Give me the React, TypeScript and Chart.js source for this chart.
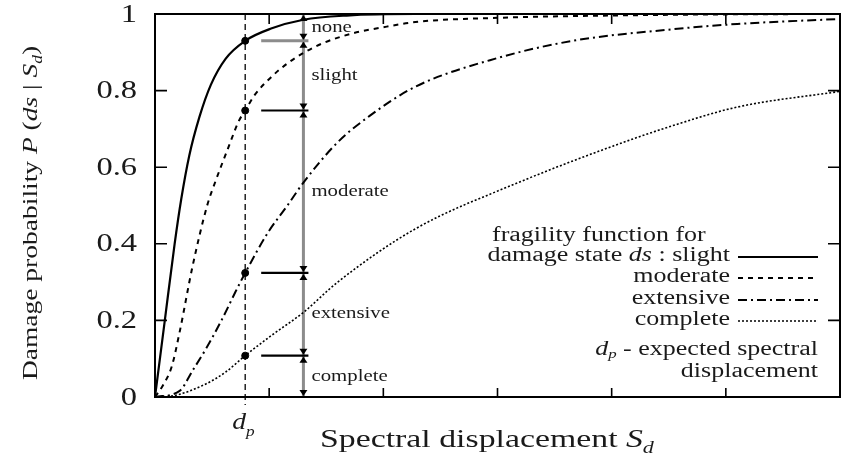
import { useEffect, useRef } from "react";
import { Chart, registerables } from "chart.js";

Chart.register(...registerables);

// ---- data (x in axis units, tick spacing = 1) ----
const xSlight = [0, 0.086, 0.172, 0.23, 0.3, 0.388, 0.489, 0.618, 0.79, 1.017, 1.3, 1.68, 2.28, 3, 4, 5, 6];
const pSlight = [0, 0.2, 0.4, 0.517, 0.63, 0.73, 0.815, 0.883, 0.93, 0.962, 0.985, 0.996, 1, 1, 1, 1, 1];

const xModerate = [0, 0.069, 0.147, 0.216, 0.328, 0.457, 0.532, 0.647, 0.733, 0.79, 0.877, 1.017, 1.164, 1.31, 1.48, 1.74, 2.03, 2.28, 3, 4, 5, 6];
const pModerate = [0, 0.03, 0.08, 0.17, 0.34, 0.5, 0.565, 0.655, 0.72, 0.748, 0.79, 0.835, 0.872, 0.9, 0.925, 0.95, 0.967, 0.979, 0.99, 0.996, 0.999, 1];

const xExtensive = [0, 0.216, 0.331, 0.445, 0.589, 0.704, 0.79, 0.991, 1.16, 1.3, 1.6, 1.88, 2.28, 3, 3.66, 4.53, 5.1, 6];
const pExtensive = [0, 0.016, 0.07, 0.125, 0.204, 0.274, 0.324, 0.43, 0.5, 0.56, 0.665, 0.734, 0.81, 0.885, 0.93, 0.96, 0.974, 0.987];

const xComplete = [0, 0.155, 0.445, 0.618, 0.79, 1.017, 1.3, 1.6, 2.28, 3.15, 4.01, 4.53, 5.1, 6];
const pComplete = [0, 0.003, 0.034, 0.065, 0.108, 0.16, 0.221, 0.3, 0.439, 0.556, 0.655, 0.708, 0.757, 0.798];

const DP = 0.79; // expected spectral displacement d_p
const dpProb = [0.93, 0.748, 0.324, 0.108]; // curve values at d_p
const STATE_X = 1.3; // position of the damage-state bar
const stateLabels = ["none", "slight", "moderate", "extensive", "complete"];
const legendLabels = ["slight", "moderate", "extensive", "complete"];
const X_MIN = 0;
const X_MAX = 6;
const Y_STEP = 0.2;

const SERIF = '"Liberation Serif", "Times New Roman", serif';
const SX = 1.3;
const INK = "#1a1a1a";

const dashes: number[][] = [[], [5, 5], [9, 4, 2, 4], [2, 2]];
const widths = [2.2, 2, 2, 1.6];

type Run = [string, string, number?];

function drawRich(ctx: CanvasRenderingContext2D, runs: Run[], x: number, y: number, align: string, sx = SX) {
  const ws = runs.map((r) => {
    ctx.font = r[1];
    return ctx.measureText(r[0]).width * sx;
  });
  const total = ws.reduce((a, b) => a + b, 0);
  let cx = align === "right" ? x - total : align === "center" ? x - total / 2 : x;
  runs.forEach((r, i) => {
    ctx.save();
    ctx.font = r[1];
    ctx.translate(cx, y + (r[2] || 0));
    ctx.scale(sx, 1);
    ctx.textAlign = "left";
    ctx.fillText(r[0], 0, 0);
    ctx.restore();
    cx += ws[i];
  });
}

const f = (size: number, italic = false) => `${italic ? "italic " : ""}${size}px ${SERIF}`;

const decor = {
  id: "decor",
  beforeDatasetsDraw(chart: any) {
    const { ctx, chartArea: a, scales } = chart;
    const x = scales.x;
    const y = scales.y;
    ctx.save();
    const xd = x.getPixelForValue(DP);
    const xs = x.getPixelForValue(STATE_X);
    // d_p dashed line
    ctx.strokeStyle = "#000";
    ctx.lineWidth = 1.3;
    ctx.setLineDash([6, 4]);
    ctx.beginPath();
    ctx.moveTo(xd, a.top);
    ctx.lineTo(xd, a.bottom + 8);
    ctx.stroke();
    ctx.setLineDash([]);
    // damage-state bar
    ctx.strokeStyle = "#8c8c8c";
    ctx.lineWidth = 3;
    ctx.beginPath();
    ctx.moveTo(xs, y.getPixelForValue(1));
    ctx.lineTo(xs, y.getPixelForValue(0));
    ctx.stroke();
    // horizontal markers
    dpProb.forEach((p, i) => {
      const py = y.getPixelForValue(p);
      ctx.strokeStyle = i === 0 ? "#8c8c8c" : "#000";
      ctx.lineWidth = i === 0 ? 3 : 2.2;
      ctx.beginPath();
      ctx.moveTo(xd + 16, py);
      ctx.lineTo(xs + 5, py);
      ctx.stroke();
    });
    ctx.restore();
  },
  afterDatasetsDraw(chart: any) {
    const { ctx, chartArea: a, scales } = chart;
    const x = scales.x;
    const y = scales.y;
    ctx.save();
    ctx.fillStyle = INK;
    ctx.strokeStyle = "#000";
    // frame
    ctx.lineWidth = 2;
    ctx.beginPath();
    ctx.moveTo(a.left, a.top);
    ctx.lineTo(a.left, a.bottom);
    ctx.lineTo(a.right, a.bottom);
    ctx.lineTo(a.right, a.top);
    ctx.closePath();
    ctx.stroke();
    // inner ticks
    ctx.lineWidth = 1.6;
    y.ticks.forEach((t: any) => {
      if (t.value <= 0 || t.value >= 1) return;
      const py = y.getPixelForValue(t.value);
      ctx.beginPath();
      ctx.moveTo(a.left, py);
      ctx.lineTo(a.left + 12, py);
      ctx.moveTo(a.right, py);
      ctx.lineTo(a.right - 12, py);
      ctx.stroke();
    });
    x.ticks.forEach((t: any) => {
      if (t.value <= X_MIN || t.value >= X_MAX) return;
      const px = x.getPixelForValue(t.value);
      ctx.beginPath();
      ctx.moveTo(px, a.bottom);
      ctx.lineTo(px, a.bottom - 9);
      ctx.moveTo(px, a.top);
      ctx.lineTo(px, a.top + 10);
      ctx.stroke();
    });
    // y tick labels
    ctx.textBaseline = "middle";
    y.ticks.forEach((t: any) => {
      drawRich(ctx, [[String(t.label), f(25)]], a.left - 18, y.getPixelForValue(t.value) + 1, "right");
    });
    // state arrows
    const xs = x.getPixelForValue(STATE_X);
    const levels = [1, ...dpProb, 0];
    const tri = (px: number, tip: number, dir: number) => {
      ctx.beginPath();
      ctx.moveTo(px, tip);
      ctx.lineTo(px - 4, tip + dir * 6);
      ctx.lineTo(px + 4, tip + dir * 6);
      ctx.closePath();
      ctx.fillStyle = "#000";
      ctx.fill();
    };
    levels.forEach((p, i) => {
      const py = y.getPixelForValue(p);
      if (i > 0) tri(xs, py - 1, -1);
      if (i < levels.length - 1) tri(xs, py + 1, 1);
    });
    // state labels
    ctx.fillStyle = INK;
    ctx.textBaseline = "middle";
    stateLabels.forEach((s, i) => {
      const mid = (y.getPixelForValue(levels[i]) + y.getPixelForValue(levels[i + 1])) / 2;
      drawRich(ctx, [[s, f(16)]], xs + 8, mid, "left");
    });
    // d_p label under axis
    ctx.textBaseline = "alphabetic";
    const xd = x.getPixelForValue(DP);
    drawRich(ctx, [["d", f(24, true)], ["p", f(15, true), 7]], xd - 13, a.bottom + 32, "left", 1.15);
    // legend
    ctx.textBaseline = "middle";
    drawRich(ctx, [["fragility function for", f(20)]], 492, 236, "left");
    const rowsY = [256, 277, 299, 320];
    legendLabels.forEach((l, i) => {
      const runs: Run[] = i === 0
        ? [["damage state ", f(20)], ["ds", f(20, true)], [" : slight", f(20)]]
        : [[l, f(20)]];
      drawRich(ctx, runs, 730, rowsY[i], "right");
      ctx.save();
      ctx.strokeStyle = "#000";
      ctx.lineWidth = widths[i];
      ctx.setLineDash(dashes[i]);
      ctx.beginPath();
      ctx.moveTo(738, rowsY[i] + 1);
      ctx.lineTo(818, rowsY[i] + 1);
      ctx.stroke();
      ctx.restore();
    });
    drawRich(ctx, [["d", f(20, true)], ["p", f(13, true), 5], [" - expected spectral", f(20)]], 818, 350, "right");
    drawRich(ctx, [["displacement", f(20)]], 818, 372, "right");
    // axis titles
    ctx.textBaseline = "alphabetic";
    drawRich(ctx, [["Spectral displacement ", f(26)], ["S", f(26, true)], ["d", f(17, true), 6]], 320, 447, "left");
    ctx.save();
    ctx.translate(37, 213);
    ctx.rotate(-Math.PI / 2);
    drawRich(ctx, [
      ["Damage probability ", f(22)],
      ["P", f(22, true)],
      [" (", f(22)],
      ["ds", f(22, true)],
      [" | ", f(22)],
      ["S", f(22, true)],
      ["d", f(14, true), 5],
      [")", f(22)],
    ], 0, 0, "center", 1.25);
    ctx.restore();
    ctx.restore();
  },
};

function toPts(xs: number[], ps: number[]) {
  return xs.map((v, i) => ({ x: v, y: ps[i] }));
}

export default function App() {
  const ref = useRef<HTMLCanvasElement>(null);
  useEffect(() => {
    if (!ref.current) return;
    const series = [
      toPts(xSlight, pSlight),
      toPts(xModerate, pModerate),
      toPts(xExtensive, pExtensive),
      toPts(xComplete, pComplete),
    ];
    const chart = new Chart(ref.current, {
      type: "scatter",
      data: {
        datasets: [
          ...series.map((d, i) => ({
            label: legendLabels[i],
            data: d,
            showLine: true,
            borderColor: "#000",
            borderWidth: widths[i],
            borderDash: dashes[i],
            pointRadius: 0,
            cubicInterpolationMode: "monotone" as const,
            fill: false,
          })),
          {
            label: "dp",
            data: dpProb.map((p) => ({ x: DP, y: p })),
            showLine: false,
            pointRadius: 3.5,
            pointBackgroundColor: "#000",
            pointBorderColor: "#000",
          },
        ],
      },
      options: {
        animation: false,
        responsive: false,
        devicePixelRatio: 1,
        layout: { padding: { top: 14, right: -6, left: 0, bottom: 0 } },
        plugins: { legend: { display: false }, tooltip: { enabled: false } },
        scales: {
          x: {
            type: "linear",
            min: X_MIN,
            max: X_MAX,
            ticks: { display: false, stepSize: 1 },
            grid: { display: false },
            border: { display: false },
            afterFit: (s: any) => {
              s.height = 63;
            },
          },
          y: {
            type: "linear",
            min: 0,
            max: 1,
            ticks: {
              display: false,
              stepSize: Y_STEP,
              callback: (v: any) => String(Math.round(Number(v) * 10) / 10),
            },
            grid: { display: false },
            border: { display: false },
            afterFit: (s: any) => {
              s.width = 155;
            },
          },
        },
      },
      plugins: [decor],
    });
    return () => chart.destroy();
  }, []);
  return (
    <div style={{ position: "fixed", left: 0, top: 0, width: 845, height: 460, background: "#fff" }}>
      <canvas ref={ref} width={845} height={460} style={{ display: "block", width: 845, height: 460 }} />
    </div>
  );
}
